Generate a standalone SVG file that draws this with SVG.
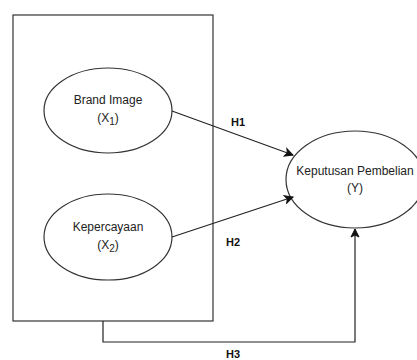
<svg xmlns="http://www.w3.org/2000/svg" width="417" height="360" viewBox="0 0 417 360">
<style>
.shape{fill:#fff;stroke:#333;stroke-width:1.2}
.edge{fill:none;stroke:#222;stroke-width:1.2}
.t{font-family:"Liberation Sans",Arial,sans-serif;font-size:12px;fill:#222;text-anchor:middle}
.lbl{font-family:"Liberation Sans",Arial,sans-serif;font-size:11px;font-weight:bold;fill:#111;text-anchor:middle}
</style>
<defs>
<marker id="arr" markerWidth="10" markerHeight="10" refX="9" refY="5" orient="auto" markerUnits="userSpaceOnUse">
<path d="M1,1 L9,5 L1,9 L3,5 Z" fill="#111" stroke="#111" stroke-width="1"/>
</marker>
</defs>
<rect width="417" height="360" fill="#fff"/>
<g id="group-box"><rect class="shape" x="13" y="15" width="200" height="306"/></g>
<g id="x1">
<ellipse class="shape" cx="108" cy="110.5" rx="64" ry="42.5"/>
<text class="t" x="108" y="104">Brand Image</text>
<text class="t" x="108" y="122">(X<tspan font-size="10" dy="3">1</tspan><tspan dy="-3">)</tspan></text>
</g>
<g id="x2">
<ellipse class="shape" cx="108" cy="237" rx="64" ry="43"/>
<text class="t" x="108" y="231">Kepercayaan</text>
<text class="t" x="108" y="249">(X<tspan font-size="10" dy="3">2</tspan><tspan dy="-3">)</tspan></text>
</g>
<g id="y">
<ellipse class="shape" cx="355" cy="179.5" rx="69" ry="48.5"/>
<text class="t" x="355" y="175">Keputusan Pembelian</text>
<text class="t" x="355" y="192">(Y)</text>
</g>
<g id="connectors">
<line class="edge" x1="172" y1="111" x2="293" y2="155" marker-end="url(#arr)"/>
<line class="edge" x1="172" y1="237" x2="293" y2="197" marker-end="url(#arr)"/>
<polyline class="edge" points="103,321 103,342 355,342 355,229" marker-end="url(#arr)"/>
<text class="lbl" x="238" y="126">H1</text>
<text class="lbl" x="233" y="246">H2</text>
<text class="lbl" x="233" y="358">H3</text>
</g>
</svg>
